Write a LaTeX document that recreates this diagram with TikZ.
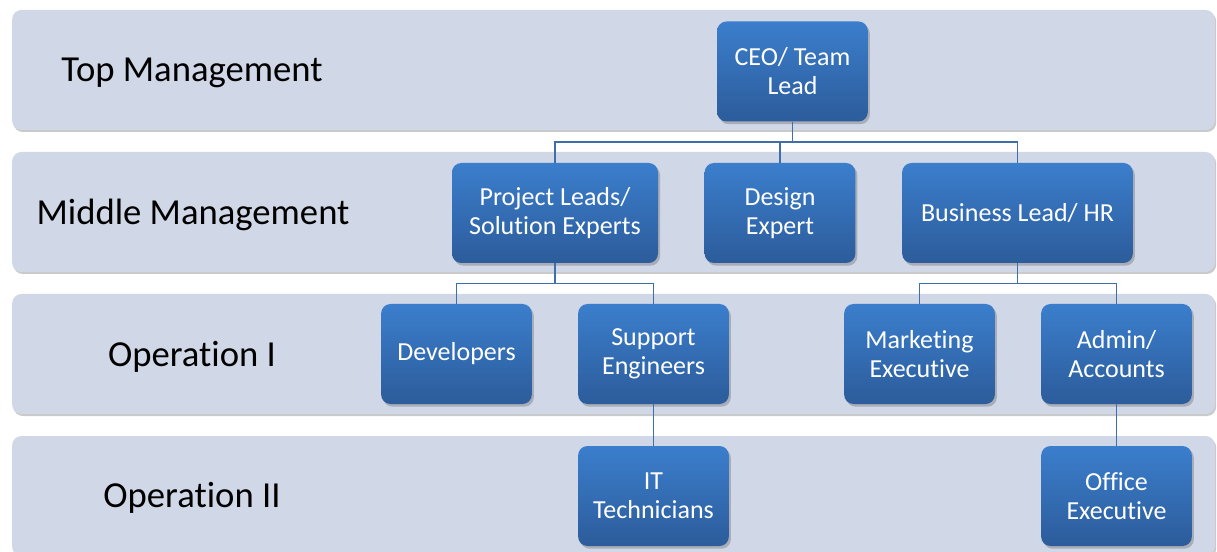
\documentclass[tikz,border=0pt]{standalone}
\usepackage{fontspec}
\setmainfont[Ligatures=NoCommon]{Carlito}
\usetikzlibrary{shadows}
\definecolor{bandfill}{HTML}{D0D7E6}
\definecolor{boxtop}{HTML}{3B7ECC}
\definecolor{boxbot}{HTML}{2C5C9B}
\definecolor{connc}{HTML}{3F6FAA}
\tikzset{
  band/.style={rounded corners=7pt, fill=bandfill, minimum width=902pt, minimum height=90pt, inner sep=0pt,
    drop shadow={shadow xshift=1pt, shadow yshift=-1.5pt, opacity=0.35, fill=black!60}},
  bandlabel/.style={font=\fontsize{27.5}{33}\selectfont, text=black, inner sep=0pt},
  orgbox/.style={rounded corners=7pt, top color=boxtop, bottom color=boxbot, draw=none,
    minimum width=113pt, minimum height=75pt, inner sep=0pt, align=center, text=white,
    font=\fontsize{19.5}{21.75}\selectfont,
    drop shadow={shadow xshift=1.5pt, shadow yshift=-2pt, opacity=0.3, fill=black!70}},
  conn/.style={draw=connc, line width=1.1pt}
}
\begin{document}
\begin{tikzpicture}[x=0.75pt, y=-0.75pt]
\useasboundingbox (0,0) rectangle (1217,552);
% bands
\node[band] (band1) at (613.5,70) {};
\node[band] (band2) at (613.5,212) {};
\node[band] (band3) at (613.5,354) {};
\node[band] (band4) at (613.5,496) {};
% band labels
\node[bandlabel] (lab1) at (192,73) {Top Management};
\node[bandlabel] (lab2) at (193,215) {Middle Management};
\node[bandlabel] (lab3) at (192,357) {Operation I};
\node[bandlabel] (lab4) at (192,498) {Operation II};
% boxes
\node[orgbox] (ceo) at (792.5,71.5) {CEO/ Team\\Lead};
\node[orgbox, minimum width=154.5pt] (pl) at (555,213) {Project Leads/\\Solution Experts};
\node[orgbox] (de) at (780,213) {Design\\Expert};
\node[orgbox, minimum width=173pt] (bl) at (1017.5,213) {Business Lead/ HR};
\node[orgbox] (dev) at (456.5,354) {Developers};
\node[orgbox] (se) at (653.5,354) {Support\\Engineers};
\node[orgbox] (me) at (919.5,354) {Marketing\\Executive};
\node[orgbox] (aa) at (1116.5,354) {Admin/\\Accounts};
\node[orgbox] (it) at (653.5,496) {IT\\Technicians};
\node[orgbox] (oe) at (1116.5,496) {Office\\Executive};
% junctions
\coordinate (j1) at (792.5,142);
\coordinate (j2) at (555,283.5);
\coordinate (j3) at (1017.5,283.5);
% connectors
\draw[conn] (ceo.south) -- (j1);
\draw[conn] (pl.north) |- (j1) -| (bl.north);
\draw[conn] (de.north) -- (de.north |- j1);
\draw[conn] (pl.south) -- (j2);
\draw[conn] (dev.north) |- (j2) -| (se.north);
\draw[conn] (bl.south) -- (j3);
\draw[conn] (me.north) |- (j3) -| (aa.north);
\draw[conn] (se.south) -- (it.north);
\draw[conn] (aa.south) -- (oe.north);
\end{tikzpicture}
\end{document}
